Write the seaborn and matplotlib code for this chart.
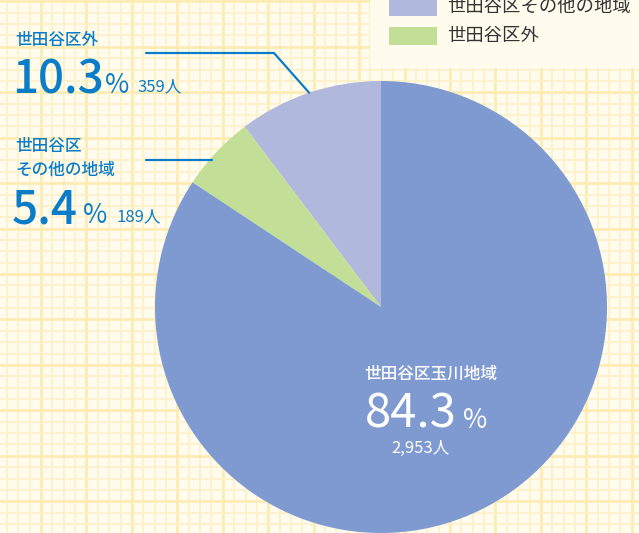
import numpy as np
import matplotlib.pyplot as plt
import seaborn as sns
from matplotlib.patches import Rectangle

# data
regions = ["世田谷区外", "世田谷区その他の地域", "世田谷区玉川地域"]
legend_labels = ["世田谷区玉川地域", "世田谷区その他の地域", "世田谷区外"]
shares = [10.3, 5.4, 84.3]
counts = ["359人", "189人", "2,953人"]
pct_text = ["10.3", "5.4", "84.3"]

colors = ["#b0b8de", "#c2de97", "#7f9ad0"]
legend_colors = ["#7f9ad0", "#b0b8de", "#c2de97"]
TEXT_BLUE = "#0b7dc8"
BG = "#fffcee"

sns.set_theme(style="white")
plt.rcParams["font.family"] = ["Noto Sans CJK JP", "DejaVu Sans"]

W, H = 639, 533
fig = plt.figure(figsize=(W / 100, H / 100), dpi=100)
fig.patch.set_facecolor(BG)
ax = fig.add_axes([0, 0, 1, 1])
ax.set_facecolor(BG)

# pie (y axis is flipped later, so go clockwise in data = counterclockwise on screen)
cx, cy, R = 381, 307, 226
wedges, _ = ax.pie(shares, colors=colors, startangle=-90, counterclock=False,
                   center=(cx, cy), radius=R, wedgeprops=dict(linewidth=0),
                   frame=True)

ax.set_xlim(0, W)
ax.set_ylim(H, 0)
ax.set_aspect("auto")

# graph paper grid
step = 11.36
ax.set_xticks(np.arange(6.94 + 3 * step, W, 4 * step))
ax.set_xticks(np.arange(6.94, W, step), minor=True)
ax.set_yticks(np.arange(1.4, H, 4 * step))
ax.set_yticks(np.arange(1.4, H, step), minor=True)
ax.grid(which="minor", color="#fdf0c4", lw=1.1)
ax.grid(which="major", color="#fcecb4", lw=2.0)
ax.set_axisbelow(True)
ax.tick_params(which="both", length=0, labelbottom=False, labelleft=False)
for s in ax.spines.values():
    s.set_visible(False)

# legend box (top entry runs off the top edge, as in the original)
ax.add_patch(Rectangle((370, 0), W - 370, 68, color=BG, zorder=1.5, lw=0))
for i, (lab, c) in enumerate(zip(legend_labels, legend_colors)):
    yc = -23 + i * 29.5
    ax.add_patch(Rectangle((389, yc - 9), 48, 18, color=c, zorder=2, lw=0))
    ax.text(447, yc, lab, fontsize=13.2, color="#333333", va="center", zorder=3)

# leader lines
th = np.radians((wedges[0].theta1 + wedges[0].theta2) / 2)
p1 = (cx + R * np.cos(th), cy + R * np.sin(th))
ax.plot([146, 274, p1[0]], [53, 53, p1[1]], color=TEXT_BLUE, lw=1.6, zorder=4)
y2 = 160
x2 = cx - np.sqrt(R ** 2 - (cy - y2) ** 2) + 3
ax.plot([146, x2], [y2, y2], color=TEXT_BLUE, lw=1.6, zorder=4)

# outside labels
ax.text(15, 40, regions[0], fontsize=12, color=TEXT_BLUE, va="center", weight="medium")
ax.text(12, 93, pct_text[0], fontsize=33, color=TEXT_BLUE, va="baseline", weight="medium")
ax.text(105, 93, "%", fontsize=19, color=TEXT_BLUE, va="baseline")
ax.text(137, 91, counts[0], fontsize=12, color=TEXT_BLUE, va="baseline")

ax.text(15, 146, "世田谷区", fontsize=12, color=TEXT_BLUE, va="center", weight="medium")
ax.text(15, 170, "その他の地域", fontsize=12, color=TEXT_BLUE, va="center", weight="medium")
ax.text(12, 223, pct_text[1], fontsize=33, color=TEXT_BLUE, va="baseline", weight="medium")
ax.text(83, 223, "%", fontsize=19, color=TEXT_BLUE, va="baseline")
ax.text(116, 221, counts[1], fontsize=12, color=TEXT_BLUE, va="baseline")

# inside label
ax.text(431, 374, regions[2], fontsize=12, color="white", ha="center", va="center", weight="medium")
ax.text(365, 428, pct_text[2], fontsize=34, color="white", va="baseline")
ax.text(463, 428, "%", fontsize=19, color="white", va="baseline")
ax.text(391, 453, counts[2], fontsize=12, color="white", va="baseline")

fig.savefig("out.png", dpi=100, facecolor=BG)
